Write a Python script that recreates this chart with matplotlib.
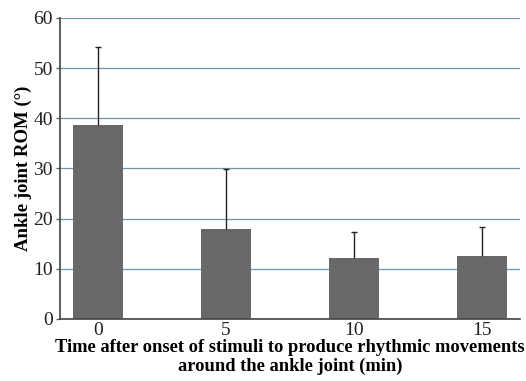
import matplotlib
matplotlib.use("Agg")
import matplotlib.pyplot as plt
import numpy as np

# ankle ROM after stimulus onset
minutes = ["0", "5", "10", "15"]
rom_mean = [38.6, 17.9, 12.2, 12.5]
rom_sd = [15.6, 11.9, 5.2, 5.9]

plt.rcParams["font.family"] = ["Liberation Serif", "DejaVu Serif"]

fig = plt.figure(figsize=(5.26, 3.81), dpi=100)
ax = fig.add_axes([0.114, 0.163, 0.875, 0.79])

x = np.arange(len(minutes))
ax.set_axisbelow(True)
ax.grid(axis="y", color="#6f95a8", linewidth=0.9)
ax.bar(x, rom_mean, width=0.39, color="#686868", zorder=2)
eb = ax.errorbar(x, rom_mean, yerr=[np.zeros(len(x)), rom_sd], fmt="none",
                 ecolor="#222222", elinewidth=1.0, capsize=2.5, capthick=1.0, zorder=3)
# only the upper whisker gets a cap
eb[1][0].set_visible(False)

ax.set_xlim(-0.3, 3.3)
ax.set_ylim(0, 60)
ax.set_yticks(range(0, 61, 10))
ax.set_xticks(x)
ax.set_xticklabels(minutes)
ax.tick_params(axis="both", labelsize=14, colors="#222222", pad=2)
ax.tick_params(axis="x", length=0)
ax.tick_params(axis="y", length=3, width=0.9, color="#555555")

for side in ["top", "right"]:
    ax.spines[side].set_visible(False)
for side in ["left", "bottom"]:
    ax.spines[side].set_color("#444444")
    ax.spines[side].set_linewidth(1.2)

ax.set_ylabel("Ankle joint ROM (°)", fontsize=13.5, fontweight="bold", labelpad=1)
ax.set_xlabel("Time after onset of stimuli to produce rhythmic movements\naround the ankle joint (min)",
              fontsize=13.3, fontweight="bold", labelpad=0, linespacing=1.15)

fig.savefig("out.png", dpi=100)
